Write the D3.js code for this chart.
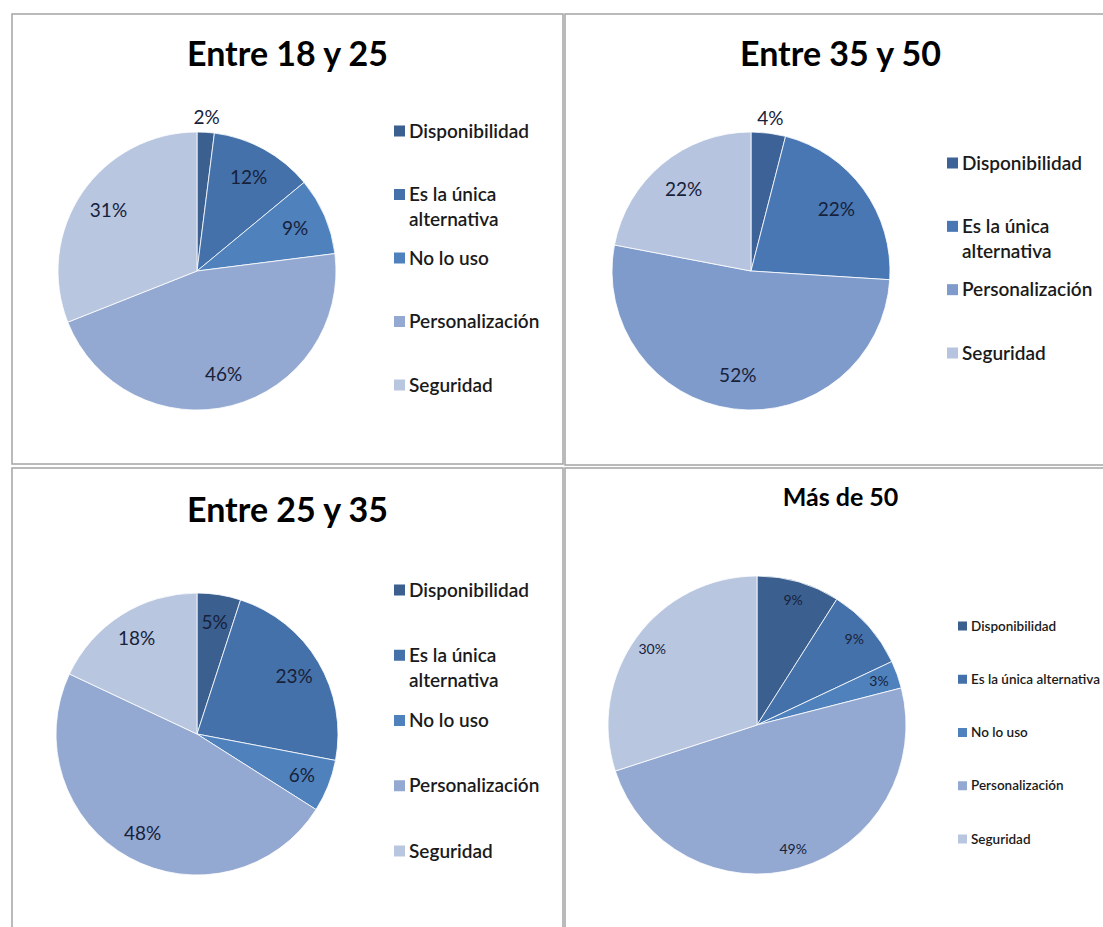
<!DOCTYPE html>
<html>
<head>
<meta charset="utf-8">
<script src="https://cdn.jsdelivr.net/npm/d3@7"></script>
<style>
  html, body { margin: 0; padding: 0; background: #fff; overflow: hidden; }
  svg { display: block; font-family: Lato, "Open Sans", sans-serif; }
</style>
</head>
<body>
<svg id="chart" width="1103" height="927"></svg>
<script>
// Age groups, one panel each
const titulos = ["Entre 18 y 25", "Entre 35 y 50", "Entre 25 y 35", "Más de 50"];

// Reasons given (the 35–50 group has no "No lo uso" answer)
const motivos = ["Disponibilidad", "Es la única alternativa", "No lo uso", "Personalización", "Seguridad"];
const motivos35a50 = ["Disponibilidad", "Es la única alternativa", "Personalización", "Seguridad"];

// Share of answers (%) per group, in the order of the reason lists
const pct18a25 = [2, 12, 9, 46, 31];
const pct35a50 = [4, 22, 52, 22];
const pct25a35 = [5, 23, 6, 48, 18];
const pctMas50 = [9, 9, 3, 49, 30];

// Monochrome blue palettes (five and four slices)
const azules5 = ["#3b5f8f", "#4571aa", "#4f81bd", "#94a9d1", "#b9c6e0"];
const azules4 = ["#3c6297", "#4877b4", "#7e9bcb", "#b6c4df"];

// Panel layout
const paneles = [
  { titulo: titulos[0], cats: motivos, vals: pct18a25, colores: azules5,
    x: 12, y: 14, w: 551, h: 450, tSize: 34, tY: 52,
    cx: 185, cy: 257, r: 139, labelK: 0.77, fueraBajo: 5, lSize: 19,
    legX: 382, legY0: 117, legY1: 371, legSize: 19, sq: 11, wrap: true },
  { titulo: titulos[1], cats: motivos35a50, vals: pct35a50, colores: azules4,
    x: 565, y: 14, w: 551, h: 451, tSize: 34, tY: 52,
    cx: 186, cy: 257, r: 139, labelK: 0.76, fueraBajo: 5, lSize: 19,
    legX: 382, legY0: 149, legY1: 339, legSize: 19, sq: 11, wrap: true },
  { titulo: titulos[2], cats: motivos, vals: pct25a35, colores: azules5,
    x: 12, y: 468, w: 551, h: 480, tSize: 34, tY: 54,
    cx: 185, cy: 266, r: 141, labelK: 0.8, fueraBajo: 0, lSize: 19,
    legX: 382, legY0: 122, legY1: 383, legSize: 19, sq: 11, wrap: true },
  { titulo: titulos[3], cats: motivos, vals: pctMas50, colores: azules5,
    x: 565, y: 468, w: 551, h: 480, tSize: 25, tY: 38,
    cx: 192, cy: 257, r: 149, labelK: 0.87, fueraBajo: 0, lSize: 14,
    legX: 393, legY0: 158, legY1: 371, legSize: 13.5, sq: 9, wrap: false }
];

const svg = d3.select("#chart");
svg.append("rect").attr("width", 1103).attr("height", 927).attr("fill", "#fff");

paneles.forEach(p => {
  const g = svg.append("g").attr("transform", `translate(${p.x},${p.y})`);

  // chart area frame
  g.append("rect")
    .attr("x", 0).attr("y", 0).attr("width", p.w).attr("height", p.h)
    .attr("fill", "#fff").attr("stroke", "#a4a4a4").attr("stroke-width", 1.5);

  // title
  g.append("text")
    .attr("x", p.w / 2).attr("y", p.tY)
    .attr("text-anchor", "middle")
    .attr("font-size", p.tSize).attr("font-weight", 700).attr("fill", "#000")
    .text(p.titulo);

  const datos = p.cats.map((c, i) => ({ cat: c, val: p.vals[i] }));
  const color = d3.scaleOrdinal().domain(p.cats).range(p.colores);
  const pie = d3.pie().sort(null).value(d => d.val);
  const arcos = pie(datos);
  const arc = d3.arc().innerRadius(0).outerRadius(p.r);
  const arcIn = d3.arc().innerRadius(p.r * p.labelK).outerRadius(p.r * p.labelK);
  const arcOut = d3.arc().innerRadius(p.r * 1.11).outerRadius(p.r * 1.11);

  const pg = g.append("g").attr("transform", `translate(${p.cx},${p.cy})`);

  pg.selectAll("path")
    .data(arcos)
    .join("path")
    .attr("d", arc)
    .attr("fill", d => color(d.data.cat))
    .attr("stroke", "#fff")
    .attr("stroke-width", 0.8);

  // percentage labels
  pg.selectAll("text")
    .data(arcos)
    .join("text")
    .attr("transform", d => {
      const a = d.data.val < p.fueraBajo ? arcOut : arcIn;
      return `translate(${a.centroid(d)})`;
    })
    .attr("text-anchor", "middle")
    .attr("dy", "0.35em")
    .attr("font-size", p.lSize)
    .attr("fill", "#17213a")
    .text(d => d.data.val + "%");

  // legend
  const ly = d3.scalePoint().domain(p.cats).range([p.legY0, p.legY1]);
  const leg = g.append("g");
  const item = leg.selectAll("g")
    .data(p.cats)
    .join("g")
    .attr("transform", d => `translate(${p.legX},${ly(d)})`);

  item.append("rect")
    .attr("x", 0).attr("y", -p.sq / 2)
    .attr("width", p.sq).attr("height", p.sq)
    .attr("fill", d => color(d));

  item.append("text")
    .attr("x", p.sq + 4)
    .attr("font-size", p.legSize)
    .attr("font-weight", 600)
    .attr("fill", "#1a1a1a")
    .each(function (d) {
      const t = d3.select(this);
      const lineas = (p.wrap && d === "Es la única alternativa")
        ? ["Es la única", "alternativa"] : [d];
      lineas.forEach((l, i) => {
        t.append("tspan")
          .attr("x", p.sq + 4)
          .attr("dy", i === 0 ? "0.35em" : "1.32em")
          .text(l);
      });
    });
});
</script>
</body>
</html>
